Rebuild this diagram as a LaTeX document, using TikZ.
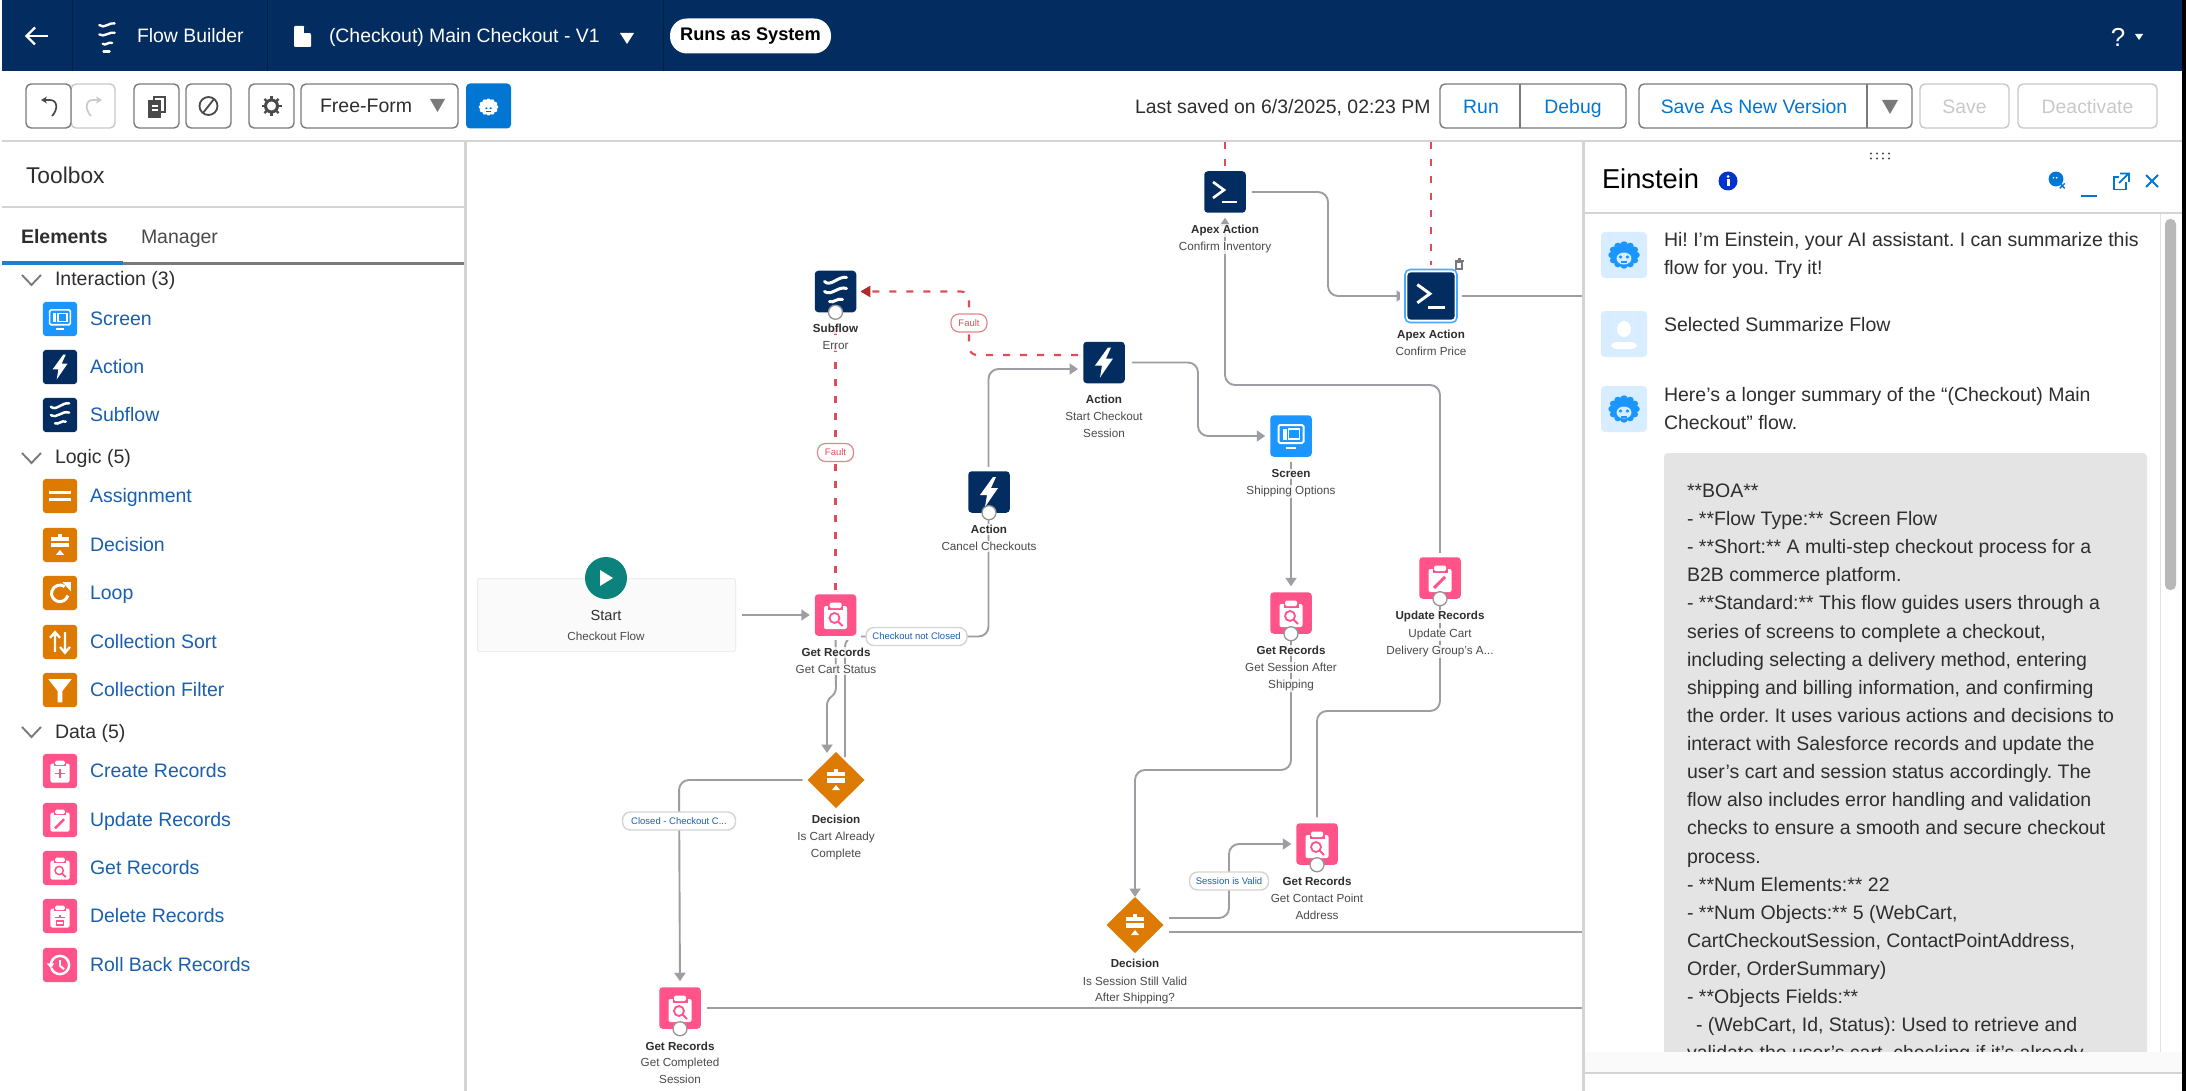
\documentclass[tikz,border=0pt]{standalone}
\usepackage{fontspec}
\setmainfont[Ligatures=ResetAll]{Liberation Sans}
\AtBeginDocument{\frenchspacing}
\usetikzlibrary{arrows.meta,shapes.geometric,calc}
\definecolor{navy}{HTML}{032D60}
\definecolor{pinkc}{HTML}{FF538A}
\definecolor{orangec}{HTML}{DD7A01}
\definecolor{bluec}{HTML}{1B96FF}
\definecolor{tealc}{HTML}{0B827C}
\definecolor{linkc}{HTML}{1A5FAE}
\definecolor{btnblue}{HTML}{0176D3}
\definecolor{btnline}{HTML}{7A7A7A}
\definecolor{dis}{HTML}{C9C9C9}
\definecolor{inkc}{HTML}{2E2E2E}
\definecolor{subc}{HTML}{4A4A4A}
\definecolor{flowc}{HTML}{9C9EA4}
\definecolor{faultc}{HTML}{DC4F5A}
\definecolor{faultd}{HTML}{B3282D}
\definecolor{avatarc}{HTML}{D8EDFF}
\definecolor{rulec}{HTML}{D4D4D4}
\pgfdeclarelayer{bg}\pgfdeclarelayer{conn}
\pgfsetlayers{bg,conn,main}
\newcounter{tc}
\newcommand{\fsz}[1]{\fontsize{#1}{#1}\selectfont}
\newcommand{\tnode}[4][]{\stepcounter{tc}\node[inner sep=0pt,outer sep=0pt,#1] (t\arabic{tc}) at (#2,#3) {#4};}
\tikzset{
 x=1pt,y=-1pt,
 icobox/.style={rectangle,inner sep=0pt,outer sep=0pt,rounded corners=3.5pt},
 btn/.style={draw=btnline,line width=1.4pt,fill=white,rounded corners=5pt},
 btnoff/.style={draw=dis,line width=1.4pt,fill=white,rounded corners=5pt},
 flow/.style={draw=flowc,line width=1.9pt},
 arr/.style={-{Triangle[length=8.5pt,width=11pt]}},
 faultl/.style={draw=faultc,line width=2.1pt,dash pattern=on 7pt off 10pt},
 sh/.style={yshift=-4pt},
 lblb/.style={inner sep=1pt,outer sep=0pt,anchor=mid,yshift=-2pt,fill=white,fill opacity=.8,text opacity=1,font=\fsz{11.6}\bfseries,text=inkc},
 lbls/.style={inner sep=1pt,outer sep=0pt,anchor=mid,yshift=-2pt,fill=white,fill opacity=.8,text opacity=1,font=\fsz{11.7},text=subc},
 pill/.style={draw=rulec,line width=1.4pt,fill=white,rounded corners=8pt,inner sep=0pt,outer sep=0pt,minimum height=18pt,font=\fsz{9.5},text=linkc},
 fpill/.style={draw=faultc!70,line width=1.2pt,fill=white,rounded corners=8pt,inner sep=0pt,outer sep=0pt,minimum height=18pt,minimum width=36pt,font=\fsz{9.5},text=faultc},
 ring/.style={circle,draw=btnline!80,line width=1.3pt,fill=white,inner sep=0pt,outer sep=0pt,minimum size=14pt},
 tool/.style={inner sep=0pt,outer sep=0pt,anchor=mid west,sh,font=\fsz{19.5},text=linkc},
 sect/.style={inner sep=0pt,outer sep=0pt,anchor=mid west,sh,font=\fsz{19.5},text=inkc},
 body/.style={inner sep=0pt,outer sep=0pt,anchor=mid west,sh,font=\fsz{19.5},text=inkc},
}
% glyphs (box of +-20.75 units)
\newcommand{\glScreen}{\draw[white,line width=2*\ics pt,rounded corners=1.5pt] (-12.5,-11) rectangle (12.5,7);
 \fill[white] (-8.5,-7.5) rectangle (-4.5,3.5);
 \draw[white,line width=1.5*\ics pt] (-2.5,-7) rectangle (8.5,3);
 \fill[white] (-5,11) rectangle (5,13);}
\newcommand{\glBolt}{\fill[white] (4,-15)--(-9,3)--(-2,3)--(-4,15)--(9,-4)--(2,-4)--(7,-15)--cycle;}
\newcommand{\glFlow}{\begin{scope}[white,line width=3*\ics pt,line cap=round]
 \draw (-11,-10) .. controls (-5,-4) and (3,-16) .. (11,-14);
 \draw (-11,0) .. controls (-4,5) and (3,-6) .. (11,-3);
 \draw (-6,10) .. controls (-2,12) and (2,6) .. (7,8);\end{scope}}
\newcommand{\glApex}{\draw[white,line width=2.6*\ics pt] (-12,-10) -- (-1,-2) -- (-12,6);\draw[white,line width=2.6*\ics pt] (-3,10) -- (12,10);}
\newcommand{\glClip}{\fill[white,rounded corners=2pt] (-11.5,-9) rectangle (11.5,14);
 \fill[pinkc] (-7.5,-14) rectangle (7.5,-5.5);
 \fill[white,rounded corners=1.5pt] (-6,-12.5) rectangle (6,-7);}
\newcommand{\glGet}{\glClip\draw[pinkc,line width=1.8*\ics pt] (-1,3) circle (5);\draw[pinkc,line width=2*\ics pt] (2.5,6.5)--(7,11);}
\newcommand{\glUpd}{\glClip\draw[pinkc,line width=3*\ics pt] (-6,10) -- (5,-1);}
\newcommand{\glNew}{\glClip\draw[pinkc,line width=2*\ics pt] (0,-3) -- (0,9) (-6,3) -- (6,3);}
\newcommand{\glDel}{\glClip\draw[pinkc,line width=1.8*\ics pt] (-4,6) rectangle (4,11);\draw[pinkc,line width=2*\ics pt] (-6,2) -- (6,2) (0,-1) -- (0,2);}
\newcommand{\glSign}{\fill[white] (-11,-10) rectangle (11,-5);\fill[white] (-2,-13) rectangle (2,-5);\fill[white] (-11,-2) rectangle (11,3);\fill[white] (0,6)--(5,12)--(-5,12)--cycle;}
\newcommand{\glAssign}{\fill[white] (-13,-6) rectangle (13,-2.5);\fill[white] (-13,2.5) rectangle (13,6);}
\newcommand{\glLoop}{\draw[white,line width=3.6*\ics pt] (9.5,3) arc[start angle=15,end angle=305,radius=10];\fill[white] (3,-13)--(13,-13)--(13,-2)--cycle;}
\newcommand{\glSort}{\begin{scope}[white,line width=2.8*\ics pt]\draw (-6,12)--(-6,-11) (-12,-5)--(-6,-12)--(0,-5);\draw (6,-12)--(6,12) (0,6)--(6,13)--(12,6);\end{scope}}
\newcommand{\glFunnel}{\fill[white] (-14,-13)--(14,-13)--(3,1)--(3,15)--(-3,15)--(-3,1)--cycle;}
\newcommand{\glClock}{\draw[white,line width=3*\ics pt] (-11,0) arc[start angle=180,end angle=520,radius=11];\fill[white] (-16,-2)--(-7,-2)--(-11,4)--cycle;\draw[white,line width=2.4*\ics pt] (0,-6)--(0,1)--(5,5);}
\newcommand{\glEin}[3]{\begin{scope}[xscale=1.15]\foreach \a in {0,30,...,330}{\fill[#1] (\a:10.5) circle (3.2);}
 \fill[#1] (0,0) circle (11);\fill[#2] (0,3.5) ellipse (6.5 and 6);\fill[#3] (-3,2) circle (1.7);\fill[#3] (3,2) circle (1.7);\fill[#3] (-3,6.5) rectangle (3,8.5);\end{scope}}
% small (toolbox) and flow icons
\newcommand{\mkicon}[6]{\def\ics{#5}\node[icobox,fill=#4,minimum size=#5*41.5pt] (#1) at (#2,#3) {};
 \begin{scope}[shift={(#2,#3)},scale=#5]#6\end{scope}}
\newcommand{\flowicon}[5]{\fill[white] (#2-25,#3-25) rectangle (#2+25,#3+25);\mkicon{#1}{#2}{#3}{#4}{1}{#5}}
\newcommand{\toolitem}[5]{\mkicon{#1}{60}{#2}{#3}{0.83}{#4}\tnode[tool]{90}{#2}{#5}}
\newcommand{\chev}[1]{\draw[btnline,line width=1.9pt] (22,#1-5)--(31.5,#1+5)--(41,#1-5);}
\newcommand{\avatar}[2]{\fill[avatarc,rounded corners=4pt] (1601,#1) rectangle (1647,#1+46);\begin{scope}[shift={(1624,#1+23)}]#2\end{scope}}
\begin{document}
\begin{tikzpicture}
\useasboundingbox (0,0) rectangle (2186,1091);
\begin{pgfonlayer}{bg}
\fill[white] (0,0) rectangle (2186,1091);
\fill[black] (2182,0) rectangle (2186,1091);
\fill[navy] (2,0) rectangle (2182,71);
\fill[rulec] (2,140) rectangle (2182,142.5);
\end{pgfonlayer}
% ---- header
\foreach \xx in {72,267,663}{\draw[navy!70!black,line width=1pt] (\xx,0) -- (\xx,71);}
\draw[white,line width=2.2pt] (48,36) -- (27,36);\draw[white,line width=2.2pt] (35,27.5) -- (26.5,36) -- (35,44.5);
\begin{scope}[shift={(107,37)},scale=.85,white,line width=2.4pt,line cap=round]
 \draw (-9,-14) .. controls (-4,-9) and (4,-18) .. (9,-16);
 \draw (-9,-3) .. controls (-4,1) and (4,-7) .. (9,-5);
 \draw (-5,8) .. controls (-2,11) and (2,5) .. (6,7);
 \draw (-4,17) -- (3,17);
\end{scope}
\tnode[anchor=mid west,sh,font=\fsz{19.4},text=white]{137}{36}{Flow Builder}
\fill[white,rounded corners=1pt] (294,26)--(304,26)--(311,34)--(311,47)--(294,47)--cycle;
\fill[navy] (304,26)--(304,33)--(311,33)--cycle;
\tnode[anchor=mid west,sh,font=\fsz{19.4},text=white]{329}{36}{(Checkout) Main Checkout - V1}
\fill[white] (620,33)--(634,33)--(627,44)--cycle;
\node[fill=white,rounded corners=17pt,minimum width=161pt,minimum height=35pt,inner sep=0pt,outer sep=0pt,font=\fsz{18.2}\bfseries,text=black] (runs) at (750.5,36) {\raisebox{-1pt}{Runs as System}};
\tnode[anchor=mid,yshift=-6pt,font=\fsz{26},text=white]{2118}{38}{?}
\fill[white] (2135,34)--(2143,34)--(2139,40)--cycle;
% ---- toolbar
\path[btnoff] (71,84) rectangle (115,128);
\path[btn] (26,84) rectangle (71,128);
\draw[subc,line width=1.7pt,-{Stealth[length=6pt,width=7pt]}] (52,116) .. controls (58,110) and (58,100) .. (50,100) -- (41,100);
\draw[dis,line width=1.7pt,-{Stealth[length=6pt,width=7pt]}] (91,116) .. controls (85,110) and (85,100) .. (93,100) -- (102,100);
\path[btn] (134,84) rectangle (179,128);
\draw[subc,line width=1.6pt,fill=white] (154,97) rectangle (165,112);\draw[subc,line width=1.6pt,fill=subc] (149,101) rectangle (160,117);
\draw[white,line width=1.2pt] (151.5,106)--(157.5,106) (151.5,110)--(157.5,110);
\path[btn] (186,84) rectangle (231,128);
\draw[subc,line width=1.8pt] (208.5,106) circle (9);\draw[subc,line width=1.8pt] (203,113)--(214,99);
\path[btn] (249,84) rectangle (294,128);
\foreach \a in {0,45,...,315}{\draw[subc,line width=2.4pt] (271.5,106)+(\a:5) -- +(\a:10);}
\draw[subc,line width=3pt] (271.5,106) circle (6);
\node[btn,minimum width=157pt,minimum height=44pt,inner sep=0pt,outer sep=0pt] (mode) at (379.5,106) {};
\tnode[anchor=mid west,sh,font=\fsz{19.5},text=inkc]{320}{106}{Free-Form}
\fill[btnline] (430,99)--(445,99)--(437.5,112)--cycle;
\node[fill=btnblue,rounded corners=4pt,minimum width=45pt,minimum height=45pt,inner sep=0pt,outer sep=0pt] (agentbtn) at (488.5,106) {};
\begin{scope}[shift={(488.5,107)},scale=.62]\glEin{white}{white}{btnblue}\end{scope}
\tnode[anchor=mid west,sh,font=\fsz{19.4},text=inkc]{1135}{107}{Last saved on 6/3/2025, 02:23 PM}
\path[btn] (1440,84) rectangle (1626,128);\draw[btnline,line width=1.4pt] (1520,84)--(1520,128);
\tnode[anchor=mid,sh,font=\fsz{19.4},text=btnblue]{1481}{107}{Run}
\tnode[anchor=mid,sh,font=\fsz{19.4},text=btnblue]{1573}{107}{Debug}
\path[btn] (1639,84) rectangle (1912,128);\draw[btnline,line width=1.4pt] (1867,84)--(1867,128);
\tnode[anchor=mid,sh,font=\fsz{19.4},text=btnblue]{1754}{107}{Save As New Version}
\fill[btnline] (1882,100)--(1898,100)--(1890,114)--cycle;
\path[btnoff] (1920,84) rectangle (2009,128);
\tnode[anchor=mid,sh,font=\fsz{19.4},text=dis]{1964.5}{107}{Save}
\path[btnoff] (2018,84) rectangle (2157,128);
\tnode[anchor=mid,sh,font=\fsz{19.4},text=dis]{2087.5}{107}{Deactivate}
% ---- toolbox
\fill[rulec] (464,142) rectangle (467,1091);
\fill[rulec] (2,206) rectangle (464,208);
\tnode[anchor=mid west,yshift=-5.5pt,font=\fsz{22.8},text=inkc]{26}{175}{Toolbox}
\tnode[anchor=mid west,sh,font=\fsz{19.5}\bfseries,text=inkc]{21}{237}{Elements}
\tnode[anchor=mid west,sh,font=\fsz{19.5},text=subc]{141}{237}{Manager}
\fill[btnline] (123,262) rectangle (464,265);
\fill[bluec!85!black] (2,261) rectangle (123,265);
\chev{280}\tnode[sect]{55}{279}{Interaction (3)}
\toolitem{tiScreen}{319}{bluec}{\glScreen}{Screen}
\toolitem{tiAction}{367}{navy}{\glBolt}{Action}
\toolitem{tiSub}{415}{navy}{\glFlow}{Subflow}
\chev{458}\tnode[sect]{55}{457}{Logic (5)}
\toolitem{tiAssign}{496}{orangec}{\glAssign}{Assignment}
\toolitem{tiDec}{545}{orangec}{\glSign}{Decision}
\toolitem{tiLoop}{593}{orangec}{\glLoop}{Loop}
\toolitem{tiSort}{642}{orangec}{\glSort}{Collection Sort}
\toolitem{tiFilter}{690}{orangec}{\glFunnel}{Collection Filter}
\chev{732}\tnode[sect]{55}{732}{Data (5)}
\toolitem{tiCreate}{771}{pinkc}{\glNew}{Create Records}
\toolitem{tiUpd}{820}{pinkc}{\glUpd}{Update Records}
\toolitem{tiGet}{868}{pinkc}{\glGet}{Get Records}
\toolitem{tiDel}{916}{pinkc}{\glDel}{Delete Records}
\toolitem{tiRoll}{965}{pinkc}{\glClock}{Roll Back Records}
% ---- canvas nodes
\node[draw=black!7,fill=black!2,line width=1pt,minimum width=258pt,minimum height=73pt,inner sep=0pt,outer sep=0pt,rounded corners=2pt] (startBox) at (606.5,615) {};
\node[circle,fill=tealc,minimum size=42pt,inner sep=0pt,outer sep=0pt] (startDot) at (606,578) {};
\fill[white] (600,570)--(600,586)--(613,578)--cycle;
\tnode[anchor=mid,yshift=-3pt,font=\fsz{14.6},text=inkc]{606}{615}{Start}
\tnode[anchor=mid,yshift=-2pt,font=\fsz{11.7},text=subc]{606}{636}{Checkout Flow}
\flowicon{subErr}{835.5}{291.5}{navy}{\glFlow}
\flowicon{getCart}{835.5}{615}{pinkc}{\glGet}
\flowicon{actStart}{1104}{362.5}{navy}{\glBolt}
\flowicon{actCancel}{989}{492}{navy}{\glBolt}
\flowicon{apexInv}{1225}{192}{navy}{\glApex}
\flowicon{screenShip}{1291}{436}{bluec}{\glScreen}
\flowicon{getSess}{1291}{613}{pinkc}{\glGet}
\flowicon{updCart}{1440}{578}{pinkc}{\glUpd}
\flowicon{getContact}{1317}{844}{pinkc}{\glGet}
\flowicon{getDone}{680}{1008}{pinkc}{\glGet}
% selected apex
\fill[white] (1400,265) rectangle (1462,327);
\node[draw=bluec!80,line width=1.6pt,fill=white,rounded corners=5pt,minimum width=52pt,minimum height=53pt,inner sep=0pt,outer sep=0pt] (priceRing) at (1431,296) {};
\mkicon{apexPrice}{1431}{296}{navy}{1.14}{\glApex}
\begin{scope}[shift={(1459,264)}]
 \draw[btnline,line width=1.1pt,fill=white] (-3,-2) rectangle (3,5);\draw[btnline,line width=1.1pt] (-4.5,-3)--(4.5,-3) (-1.5,-5)--(1.5,-5);
\end{scope}
\node[diamond,fill=orangec,minimum width=57pt,minimum height=56pt,inner sep=0pt,outer sep=0pt,aspect=1] (decCart) at (836,780) {};
\begin{scope}[shift={(836,780)},scale=.85]\def\ics{.85}\glSign\end{scope}
\node[diamond,fill=orangec,minimum width=57pt,minimum height=56pt,inner sep=0pt,outer sep=0pt,aspect=1] (decSess) at (1135,925) {};
\begin{scope}[shift={(1135,925)},scale=.85]\def\ics{.85}\glSign\end{scope}
\foreach \n in {subErr,actCancel,getSess,updCart,getContact,getDone}{\node[ring] (ring\n) at (\n.south) {};}
% labels
\tnode[lblb]{835.5}{328}{Subflow}\tnode[lbls]{835.5}{345}{Error}
\tnode[lblb]{836}{652}{Get Records}\tnode[lbls]{836}{669}{Get Cart Status}
\tnode[lblb]{1104}{399}{Action}\tnode[lbls]{1104}{416}{Start Checkout}\tnode[lbls]{1104}{433}{Session}
\tnode[lblb]{989}{529}{Action}\tnode[lbls]{989}{546}{Cancel Checkouts}
\tnode[lblb]{1225}{229}{Apex Action}\tnode[lbls]{1225}{245.5}{Confirm Inventory}
\tnode[lblb]{1431}{334}{Apex Action}\tnode[lbls]{1431}{351}{Confirm Price}
\tnode[lblb]{1291}{473}{Screen}\tnode[lbls]{1291}{490}{Shipping Options}
\tnode[lblb]{1291}{650}{Get Records}\tnode[lbls]{1291}{667}{Get Session After}\tnode[lbls]{1291}{684}{Shipping}
\tnode[lblb]{1440}{615}{Update Records}\tnode[lbls]{1440}{632.5}{Update Cart}\tnode[lbls]{1440}{650}{Delivery Group's A...}
\tnode[lblb]{836}{819}{Decision}\tnode[lbls]{836}{836}{Is Cart Already}\tnode[lbls]{836}{853}{Complete}
\tnode[lblb]{1135}{963}{Decision}\tnode[lbls]{1135}{981}{Is Session Still Valid}\tnode[lbls]{1135}{997}{After Shipping?}
\tnode[lblb]{1317}{881}{Get Records}\tnode[lbls]{1317}{898}{Get Contact Point}\tnode[lbls]{1317}{915}{Address}
\tnode[lblb]{680}{1046}{Get Records}\tnode[lbls]{680}{1062}{Get Completed}\tnode[lbls]{680}{1079}{Session}
% pills
\node[fpill] (pFault1) at (835.5,452.5) {Fault};
\node[fpill] (pFault2) at (969,323) {Fault};
\node[pill,minimum width=101pt] (pNotClosed) at (916.5,636.5) {Checkout not Closed};
\node[pill,minimum width=113pt] (pClosed) at (679,821) {Closed - Checkout C...};
\node[pill,minimum width=79pt] (pValid) at (1229,881) {Session is Valid};
% free ends of connectors
\coordinate (decCartIn) at (827,753);
\coordinate (decCartUp) at (845,757);
\coordinate (actStartIn) at (1083,369);
\coordinate (faultStart) at (1078,355);
\coordinate (decOutA) at (1169,918);
\coordinate (decOutB) at (1169,932);
\coordinate (edgeA) at (1582,1008);
\coordinate (edgeB) at (1582,932);
\coordinate (edgeC) at (1582,296);
\coordinate (topA) at (1225,142);
\coordinate (topB) at (1431,142);
\begin{pgfonlayer}{conn}
\draw[flow,arr,shorten <=6pt,shorten >=5pt] (startBox.east) -- (getCart.west);
\draw[flow,arr,rounded corners=5pt] (getCart.south) -- (836,693) -- (827,700) -- (decCartIn);
\draw[flow,arr,rounded corners=10pt,shorten >=5pt] (decCartUp) -- (845,636.5) -- (988.5,636.5) -- (988.5,369) -- (actStartIn);
\draw[flow,arr,rounded corners=10pt,shorten <=5pt,shorten >=6pt] (decCart.west) -- (679,780) -- (getDone.north);
\draw[flow,shorten <=6pt] (getDone.east) -- (edgeA);
\draw[flow,arr,rounded corners=10pt,shorten <=7pt,shorten >=5pt] (actStart.east) -- (1198,362.5) -- (1198,436) -- (screenShip.west);
\draw[flow,arr,shorten <=5pt,shorten >=6pt] (screenShip.south) -- (getSess.north);
\draw[flow,arr,rounded corners=10pt] (getSess.south) -- (1291,770) -- (1135,770) -- (decSess.north);
\draw[flow,arr,rounded corners=10pt,shorten >=5pt] (decOutA) -- (1229,918) -- (1229,844) -- (getContact.west);
\draw[flow] (decOutB) -- (edgeB);
\draw[flow,arr,rounded corners=10pt,shorten <=6pt,shorten >=5pt] (getContact.north) -- (1317,711) -- (1440,711) -- (1440,385) -- (1225,385) -- (apexInv.south);
\draw[flow,arr,rounded corners=10pt,shorten <=6pt,shorten >=0pt] (apexInv.east) -- (1328,192) -- (1328,296) -- (priceRing.west);
\draw[flow,shorten <=0pt] (priceRing.east) -- (edgeC);
\draw[faultl,shorten >=5pt] (topA) -- (apexInv.north);
\draw[faultl] (topB) -- (priceRing.north);
\draw[faultl,shorten <=4pt] (getCart.north) -- (subErr.south);
\draw[faultl,rounded corners=8pt,shorten >=4pt,-{Triangle[length=10pt,width=11pt,color=faultd]}] (faultStart) -- (969,355) -- (969,291.5) -- (subErr.east);
\end{pgfonlayer}
% ---- Einstein panel
\fill[rulec] (1582,142) rectangle (1585,1091);
\fill[white] (1585,142) rectangle (2182,1091);
\fill[rulec] (1585,212) rectangle (2182,214);
\tnode[anchor=mid west,yshift=-7pt,font=\fsz{27.3},text=black]{1602}{179}{Einstein}
\node[circle,fill=blue!75!cyan!80!black,minimum size=19pt,inner sep=0pt,outer sep=0pt] (infoDot) at (1728,181) {};
\fill[white] (1728,176.5) circle (1.5);\fill[white] (1726.5,179.5) rectangle (1729.5,186);
\fill[subc] foreach \gx in {1871,1877,1883,1889} {(\gx,153.5) circle (1.1) (\gx,158.5) circle (1.1)};
\begin{scope}[shift={(2056,179)},scale=.62]\fill[btnblue] (0,0) circle (12);\fill[white] (-4,-2) circle (1.5) (1,-2) circle (1.5);\draw[btnblue,line width=1.4pt] (6,7)--(14,15) (14,7)--(6,15);\end{scope}
\draw[btnblue,line width=2.4pt] (2081,196)--(2097,196);
\draw[btnblue,line width=1.8pt] (2114,177) rectangle (2126,189.5);
\fill[white] (2119,172) rectangle (2130,182);
\draw[btnblue,line width=1.8pt] (2119,183)--(2128,174) (2120,173.5)--(2129,173.5)--(2129,182);
\draw[btnblue,line width=2pt] (2146,175)--(2158,187) (2158,175)--(2146,187);
% messages
\avatar{232}{\glEin{bluec}{avatarc}{bluec}}
\avatar{311}{\fill[white] (0,-5) ellipse (7 and 8);\fill[white,rounded corners=5pt] (-13,15)--(-13,8)--(13,8)--(13,15)--cycle;}
\avatar{386}{\glEin{bluec}{avatarc}{bluec}}
\tnode[body]{1664}{240}{Hi! I'm Einstein, your AI assistant. I can summarize this}
\tnode[body]{1664}{268}{flow for you. Try it!}
\tnode[body]{1664}{325}{Selected Summarize Flow}
\tnode[body]{1664}{395}{Here’s a longer summary of the “(Checkout) Main}
\tnode[body]{1664}{423}{Checkout” flow.}
\fill[black!10.5,rounded corners=4pt] (1664,453) rectangle (2147,1060);
\begin{scope}
\clip (1664,440) rectangle (2147,1052);
\tnode[body]{1687}{491}{**BOA**}
\tnode[body]{1687}{519}{- **Flow Type:** Screen Flow}
\tnode[body]{1687}{547}{- **Short:** A multi-step checkout process for a}
\tnode[body]{1687}{575}{B2B commerce platform.}
\tnode[body]{1687}{603}{- **Standard:** This flow guides users through a}
\tnode[body]{1687}{632}{series of screens to complete a checkout,}
\tnode[body]{1687}{660}{including selecting a delivery method, entering}
\tnode[body]{1687}{688}{shipping and billing information, and confirming}
\tnode[body]{1687}{716}{the order. It uses various actions and decisions to}
\tnode[body]{1687}{744}{interact with Salesforce records and update the}
\tnode[body]{1687}{772}{user's cart and session status accordingly. The}
\tnode[body]{1687}{800}{flow also includes error handling and validation}
\tnode[body]{1687}{828}{checks to ensure a smooth and secure checkout}
\tnode[body]{1687}{857}{process.}
\tnode[body]{1687}{885}{- **Num Elements:** 22}
\tnode[body]{1687}{913}{- **Num Objects:** 5 (WebCart,}
\tnode[body]{1687}{941}{CartCheckoutSession, ContactPointAddress,}
\tnode[body]{1687}{969}{Order, OrderSummary)}
\tnode[body]{1687}{997}{- **Objects Fields:**}
\tnode[body]{1696}{1025}{- (WebCart, Id, Status): Used to retrieve and}
\tnode[body]{1687}{1053}{validate the user's cart, checking if it's already}
\end{scope}
\fill[black!2] (1585,1052) rectangle (2182,1072);
\fill[rulec] (1585,1072) rectangle (2182,1074);
\fill[rulec!70] (2160,214) rectangle (2161,1052);
\fill[black!28,rounded corners=5pt] (2165,219) rectangle (2176,590);
\end{tikzpicture}
\end{document}
